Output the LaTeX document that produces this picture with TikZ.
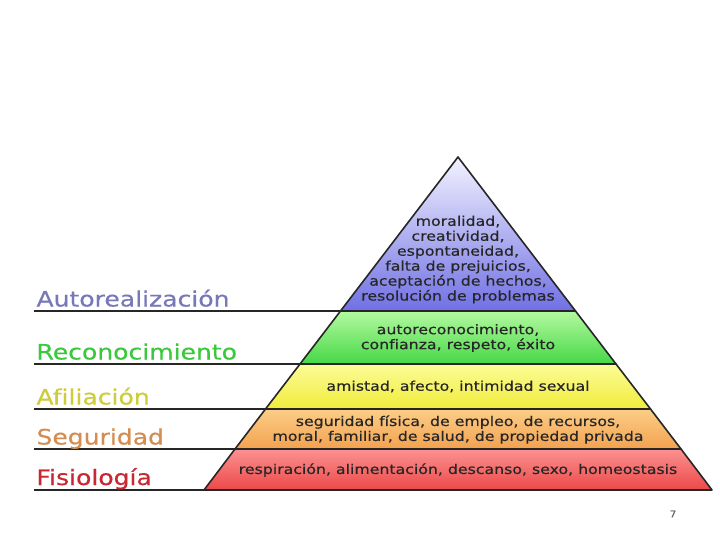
\documentclass[tikz,border=0pt]{standalone}
\usepackage{fontspec}
\setmainfont[FakeStretch=1.18, FakeBold=0.4, Ligatures=NoCommon]{DejaVu Sans}
\definecolor{autocol}{RGB}{120,120,185}
\definecolor{recocol}{RGB}{60,200,60}
\definecolor{aficol}{RGB}{205,205,60}
\definecolor{segcol}{RGB}{212,140,80}
\definecolor{fisicol}{RGB}{200,40,50}
\begin{document}
\begin{tikzpicture}[x=1bp,y=-1bp,
	capa/.style={draw=black!85, line width=1.6bp, line join=round},
	nivel/.style={anchor=base west, font=\fontsize{21.3}{24}\selectfont},
	texto/.style={align=center, text=black!85, font=\fontsize{13.4}{15}\selectfont},
	raya/.style={draw=black!85, line width=1.3bp}]
	
	\useasboundingbox (0,0) rectangle (720,540);
	
	% esquinas de la piramide
	\coordinate (cima) at (458,157);
	\coordinate (a1) at (340.5,311);	\coordinate (b1) at (575.5,311);
	\coordinate (a2) at (300,364);		\coordinate (b2) at (616,364);
	\coordinate (a3) at (265.5,409);	\coordinate (b3) at (650.5,409);
	\coordinate (a4) at (235,449);		\coordinate (b4) at (681,449);
	\coordinate (a5) at (204,490);		\coordinate (b5) at (712,490);
	
	% capas
	\path[capa, top color=blue!5, bottom color={rgb,255:red,112;green,112;blue,228}] (cima) -- (b1) -- (a1) -- cycle;
	\path[capa, top color={rgb,255:red,180;green,250;blue,160}, bottom color={rgb,255:red,70;green,215;blue,70}] (a1) -- (b1) -- (b2) -- (a2) -- cycle;
	\path[capa, top color={rgb,255:red,252;green,252;blue,150}, bottom color={rgb,255:red,240;green,236;blue,60}] (a2) -- (b2) -- (b3) -- (a3) -- cycle;
	\path[capa, top color={rgb,255:red,252;green,205;blue,135}, bottom color={rgb,255:red,242;green,162;blue,80}] (a3) -- (b3) -- (b4) -- (a4) -- cycle;
	\path[capa, top color={rgb,255:red,252;green,145;blue,145}, bottom color={rgb,255:red,236;green,72;blue,72}] (a4) -- (b4) -- (b5) -- (a5) -- cycle;
	
	% textos de las capas
	\node[texto] (t1) at (458,259.5) {moralidad,\\creatividad,\\espontaneidad,\\falta de prejuicios,\\aceptación de hechos,\\resolución de problemas};
	\node[texto] (t2) at (458,338) {autoreconocimiento,\\confianza, respeto, éxito};
	\node[texto] (t3) at (458,386.5) {amistad, afecto, intimidad sexual};
	\node[texto] (t4) at (458,429.5) {seguridad física, de empleo, de recursos,\\moral, familiar, de salud, de propiedad privada};
	\node[texto] (t5) at (458,470) {respiración, alimentación, descanso, sexo, homeostasis};
	
	% rayas de la izquierda
	\coordinate (i1) at (34,311);
	\coordinate (i2) at (34,364);
	\coordinate (i3) at (34,409);
	\coordinate (i4) at (34,449);
	\coordinate (i5) at (34,490);
	\draw[raya] (i1) -- (a1);
	\draw[raya] (i2) -- (a2);
	\draw[raya] (i3) -- (a3);
	\draw[raya] (i4) -- (a4);
	\draw[raya] (i5) -- (a5);
	
	% niveles
	\node[nivel, text=autocol] (auto) at (33,306.5) {Autorealización};
	\node[nivel, text=recocol] (reco) at (33,359.5) {Reconocimiento};
	\node[nivel, text=aficol] (afi) at (33,404.5) {Afiliación};
	\node[nivel, text=segcol] (seg) at (33,444.5) {Seguridad};
	\node[nivel, text=fisicol] (fisi) at (33,485) {Fisiología};
	
	\node[text=black!60, font=\fontsize{9}{10}\selectfont] (pag) at (673,514) {7};
\end{tikzpicture}
\end{document}
